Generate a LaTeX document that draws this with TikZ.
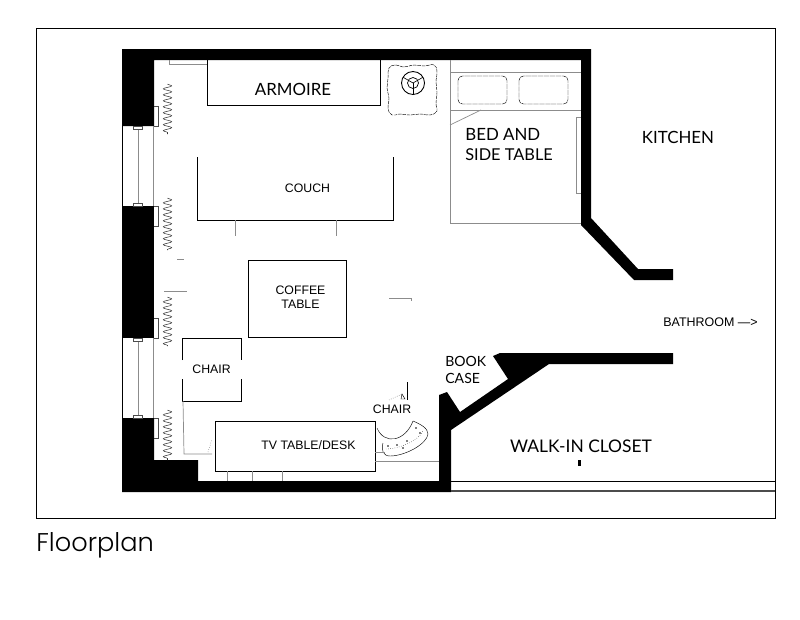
\documentclass[tikz,border=0pt]{standalone}
\usepackage{fontspec}
\usepackage{tikz}
\usetikzlibrary{decorations.pathmorphing}
\setmainfont{Liberation Sans}
\newfontfamily\roomfont{Lato}
\newfontfamily\titlefont{Poppins Light}
\tikzset{
	roomlabel/.style={font=\roomfont\fontsize{9.6}{11}\selectfont, inner sep=0pt},
	itemlabel/.style={font=\fontsize{7}{8}\selectfont, inner sep=0pt},
	furniture/.style={black, line width=0.45pt},
	faint/.style={black!45, line width=0.4pt},
	fine/.style={black, line width=0.25pt},
	curtain/.style={black!80, line width=0.3pt, decorate, decoration={snake, amplitude=2.4pt, segment length=3.4pt}}
}

\begin{document}
\begin{tikzpicture}[x=0.02cm, y=-0.02cm]
	\useasboundingbox (0,0) rectangle (800,619);

	%frame
	\draw[black, line width=0.4pt] (36,28) rectangle (775,518);
	\node[anchor=west, inner sep=0pt, font=\titlefont\fontsize{14.6}{18}\selectfont] (title) at (36,545) {Floorplan};

	%walls
	\fill[black] (122,49) -- (591,49) -- (591,218) -- (638,269) -- (673,269) -- (673,280) -- (634,280) -- (581,225) -- (581,60) -- (154,60) -- (154,126) -- (122,126) -- cycle;
	\fill[black] (122,206) rectangle (154,338);
	\fill[black] (122,418) -- (154,418) -- (154,460) -- (198,460) -- (198,481) -- (439,481) -- (439,395) -- (447,392) -- (460,412) -- (508,379) -- (493,356) -- (500,353) -- (673,353) -- (673,364) -- (549,364) -- (451,430) -- (451,492) -- (122,492) -- cycle;

	%windows
	\foreach \top/\bot in {126/206, 338/418} {
		\draw[black, line width=0.4pt] (122,\top) -- (122,\bot);
		\draw[faint] (138,\top) -- (138,\bot);
		\draw[faint] (153.5,\top) -- (153.5,\bot);
		\draw[black!70, line width=0.3pt, fill=white] (133.5,\top) rectangle (142,\top+3);
		\draw[black!70, line width=0.3pt, fill=white] (133.5,\bot-3) rectangle (142,\bot);
		\draw[black!70, line width=0.3pt] (154,\top-20) -- (158,\top-20) -- (158,\top) -- (154,\top);
		\draw[black!70, line width=0.3pt] (154,\bot) -- (158,\bot) -- (158,\bot+20) -- (154,\bot+20);
	}

	%curtains
	\foreach \top/\bot in {84/134, 198/250, 297/346, 410/460} {
		\draw[curtain] (167.5,\top) -- (167.5,\bot);
	}

	%armoire
	\draw[furniture] (207,60) -- (207,105) -- (380,105) -- (380,60);
	\draw[faint] (169,60) -- (169,64) -- (207,64);
	\node[roomlabel] (armoire) at (293,89.5) {ARMOIRE};

	%couch
	\draw[furniture] (197,157) -- (197,220) -- (393,220) -- (393,157);
	\draw[faint] (235,220) -- (235,236);
	\draw[faint] (336,220) -- (336,236);
	\node[itemlabel] (couch) at (307.5,188.5) {COUCH};

	%coffee table
	\draw[furniture] (248.5,260) rectangle (346,337);
	\node[itemlabel, align=center] (coffee) at (300.5,297.5) {COFFEE\\TABLE};
	\draw[faint] (177,259) -- (184,259);
	\draw[faint] (164,291) -- (187,291);
	\draw[faint] (389,298) -- (411,298) -- (411,301);

	%chair by the window
	\draw[furniture] (182,360) -- (182,338) -- (241,338) -- (241,360);
	\draw[furniture] (182,379) -- (182,401) -- (241,401) -- (241,379);
	\node[itemlabel] (chairleft) at (211.5,369.5) {CHAIR};

	%tv table
	\draw[furniture] (215.5,421.5) rectangle (375,471);
	\node[itemlabel] (tvtable) at (308.5,445.5) {TV TABLE/DESK};
	\foreach \x in {227,252,282} {
		\draw[faint] (\x,471) -- (\x,481);
	}
	\draw[faint] (183,401) -- (184,454) -- (212,454);
	\draw[black!60, line width=0.3pt, densely dotted] (208,452) -- (212,439);

	%round chair
	\draw[fine] (377,428) .. controls (384,445) and (405,442) .. (413,421);
	\draw[fine] (413,421) .. controls (420,424) and (428,428) .. (428,434) .. controls (427,444) and (405,456) .. (390,456) .. controls (383,456) and (381,450) .. (383,443);
	\draw[fine, densely dotted] (386,449) .. controls (400,449) and (419,440) .. (423,431);
	\foreach \x/\y in {388/446, 397/445, 407/441, 416/428, 420/433, 403/448} {
		\fill[black] (\x,\y) circle (0.9);
	}
	\draw[faint] (375,452) -- (385,452);
	\draw[faint] (375,461) -- (439,461);
	\draw[fine] (407,382) -- (407,400);
	\draw[fine, densely dotted] (389,400) -- (402,394);
	\draw[fine] (402,394) -- (405,399) -- (401,399) -- cycle;
	\node[itemlabel] (chairright) at (392,409.5) {CHAIR};

	%rug and lamp
	\draw[fine, dash pattern=on 2pt off 0.5pt] plot[smooth cycle, tension=0.8] coordinates {(389,68) (396,65) (404,67) (414,65) (424,66) (434,65) (437,72) (436,82) (437,92) (436,104) (437,111) (430,115) (420,114) (410,115) (400,114) (392,115) (388,108) (389,98) (387,88) (388,78)};
	\draw[black, line width=0.5pt] (413,83) circle (11.5);
	\draw[black, line width=0.4pt] (413,83) circle (5.5);
	\foreach \a in {90,210,330} {
		\draw[black, line width=0.35pt] (413,83) -- ++(\a:11.5);
	}

	%bed
	\draw[faint] (450,60) -- (450,223) -- (581,223);
	\draw[faint] (450,72) -- (581,72);
	\draw[faint] (450,110) -- (581,110);
	\draw[faint] (450,125) -- (481,110);
	\draw[faint] (581,117) -- (576,117) -- (576,193) -- (581,193);
	\foreach \x in {458,519} {
		\draw[fine, dash pattern=on 3pt off 0.4pt, rounded corners=2.5pt] (\x,76) rectangle (\x+49,104);
	}
	\node[roomlabel, anchor=west] (bed) at (465,134) {BED AND};
	\node[roomlabel, anchor=west, font=\roomfont\fontsize{9.3}{11}\selectfont] (sidetable) at (465,155) {SIDE TABLE};

	%other rooms
	\node[roomlabel] (kitchen) at (678,137) {KITCHEN};
	\node[itemlabel, font=\fontsize{7.1}{8}\selectfont] (bathroom) at (710.5,322) {BATHROOM ---\textgreater};
	\node[roomlabel, font=\roomfont\fontsize{8}{10}\selectfont, anchor=west] (book) at (445,361) {BOOK};
	\node[roomlabel, font=\roomfont\fontsize{8}{10}\selectfont, anchor=west] (case) at (445,378.5) {CASE};
	\node[roomlabel, font=\roomfont\fontsize{9.9}{11}\selectfont] (closet) at (581,446) {WALK-IN CLOSET};
	\fill[black] (578,460) rectangle (581,466);
	\draw[black, line width=0.5pt] (451,481) -- (775,481);
	\draw[black!70, line width=0.6pt] (451,491) -- (775,491);
\end{tikzpicture}
\end{document}
